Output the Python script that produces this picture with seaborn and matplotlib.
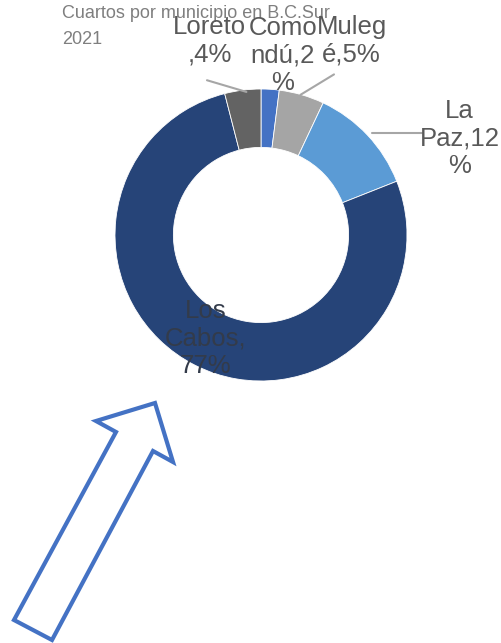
import matplotlib
matplotlib.use('Agg')
import matplotlib.pyplot as plt
import seaborn as sns
from matplotlib.patches import Polygon

# Data
municipios = ['Comondú', 'Mulegé', 'La Paz', 'Los Cabos', 'Loreto']
porcentajes = [2, 5, 12, 77, 4]
etiquetas = ['Como\nndú,2\n%', 'Muleg\né,5%', 'La\nPaz,12\n%', 'Los\nCabos,\n77%', 'Loreto\n,4%']
colores = ['#4472C4', '#A5A5A5', '#5B9BD5', '#264478', '#636363']

# label positions (data units of the pie axes) and leader lines
pos_etiquetas = [(0.15, 1.23), (0.62, 1.33), (1.36, 0.66), (-0.38, -0.71), (-0.35, 1.33)]
lineas = [None, [(0.27, 0.96), (0.50, 1.10)], [(0.76, 0.70), (1.10, 0.70)], None,
          [(-0.37, 1.06), (-0.10, 0.98)]]
color_etiqueta = ['#595959', '#595959', '#595959', '#333b4a', '#595959']

sns.set_style('white')
plt.rcParams['font.family'] = ['Liberation Sans', 'DejaVu Sans']

fig = plt.figure(figsize=(5.01, 6.43), dpi=100)

# title
fig.text(62 / 501, 1 - 13 / 643, 'Cuartos por municipio en B.C.Sur', fontsize=13,
         color='#7f7f7f', ha='left', va='center', zorder=1)
fig.text(62 / 501, 1 - 40 / 643, '2021', fontsize=13,
         color='#7f7f7f', ha='left', va='center', zorder=1)

ax = fig.add_axes([115 / 501, (643 - 381) / 643, 292 / 501, 292 / 643])
ax.pie(porcentajes, colors=colores, startangle=90, counterclock=False, radius=1,
       wedgeprops=dict(width=0.4, edgecolor='white', linewidth=0.6))
ax.set_xlim(-1, 1)
ax.set_ylim(-1, 1)
ax.set_zorder(2)

for txt, (x, y), c, ln in zip(etiquetas, pos_etiquetas, color_etiqueta, lineas):
    if ln is not None:
        ax.plot([ln[0][0], ln[1][0]], [ln[0][1], ln[1][1]], color='#a6a6a6',
                linewidth=1.5, clip_on=False, zorder=3)
    ax.text(x, y, txt, ha='center', va='center', fontsize=18.5, color=c,
            linespacing=1.18, zorder=4)

# arrow shape overlay (pixel coordinates)
ov = fig.add_axes([0, 0, 1, 1])
ov.set_xlim(0, 501)
ov.set_ylim(643, 0)
ov.axis('off')
ov.patch.set_alpha(0)
flecha = [(14, 620), (52, 640), (153, 451), (173, 462), (155, 403), (96, 421), (116, 432)]
ov.add_patch(Polygon(flecha, closed=True, fill=False, edgecolor='#4472C4',
                     linewidth=3, joinstyle='miter'))

fig.savefig('out.png', dpi=100)
